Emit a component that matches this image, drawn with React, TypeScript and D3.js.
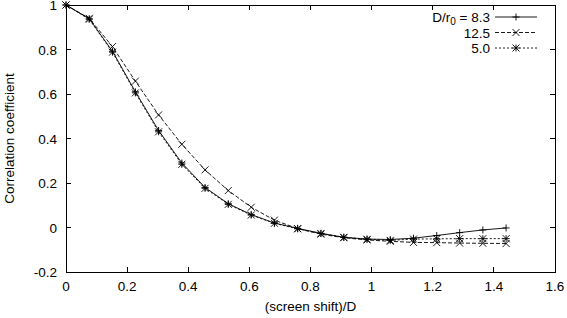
import React from "react";
import * as d3 from "d3";

const xs = [0, 0.076, 0.152, 0.227, 0.303, 0.379, 0.455, 0.531, 0.606, 0.682, 0.758, 0.834, 0.909, 0.985, 1.061, 1.137, 1.213, 1.288, 1.364, 1.44];
const s83 = [1.0, 0.938, 0.792, 0.61, 0.436, 0.29, 0.18, 0.107, 0.058, 0.02, -0.004, -0.026, -0.044, -0.052, -0.054, -0.048, -0.036, -0.023, -0.011, -0.002];
const s125 = [1.0, 0.94, 0.813, 0.658, 0.506, 0.374, 0.259, 0.166, 0.091, 0.033, -0.005, -0.03, -0.046, -0.056, -0.062, -0.067, -0.068, -0.07, -0.071, -0.072];
const s50 = [1.0, 0.936, 0.788, 0.605, 0.43, 0.284, 0.176, 0.104, 0.056, 0.019, -0.006, -0.027, -0.044, -0.053, -0.058, -0.052, -0.051, -0.05, -0.05, -0.05];
const seriesLabels = ["D/r\u2080 = 8.3", "12.5", "5.0"];
const xTicks = [0, 0.2, 0.4, 0.6, 0.8, 1, 1.2, 1.4, 1.6];
const yTicks = [-0.2, 0, 0.2, 0.4, 0.6, 0.8, 1];

const W = 567, H = 318;
const L = 66, R = 555, T = 5, B = 272;
const FONT = "'Liberation Sans', Arial, Helvetica, sans-serif";
const FS = 13.5;

function Marker({ type, x, y }: { type: string; x: number; y: number }) {
  const s = 3.5;
  const plus = <path d={`M${x - s},${y}H${x + s}M${x},${y - s}V${y + s}`} />;
  const cross = <path d={`M${x - s},${y - s}L${x + s},${y + s}M${x - s},${y + s}L${x + s},${y - s}`} />;
  if (type === "plus") return plus;
  if (type === "cross") return cross;
  return <g>{plus}{cross}</g>;
}

export default function App() {
  const x = d3.scaleLinear().domain([0, 1.6]).range([L, R]);
  const y = d3.scaleLinear().domain([-0.2, 1]).range([B, T]);
  const series = [
    { vals: s83, dash: "none", marker: "plus" },
    { vals: s125, dash: "4,2", marker: "cross" },
    { vals: s50, dash: "2,2", marker: "star" },
  ];
  const line = d3.line<number>().x((_, i) => x(xs[i])).y((v) => y(v));
  const fmt = (v: number) => (Math.abs(v) < 1e-9 ? "0" : String(+v.toFixed(1)));
  return (
    <svg width={W} height={H} style={{ position: "absolute", left: 0, top: 0, background: "#fff" }} fontFamily={FONT}>
      <rect x={0} y={0} width={W} height={H} fill="#fff" />
      <g stroke="#000" strokeWidth={1} fill="none" shapeRendering="crispEdges">
        <rect x={L} y={T} width={R - L} height={B - T} />
        {xTicks.map((t) => (
          <g key={"x" + t}>
            <line x1={x(t)} x2={x(t)} y1={B} y2={B - 5} />
            <line x1={x(t)} x2={x(t)} y1={T} y2={T + 5} />
          </g>
        ))}
        {yTicks.map((t) => (
          <g key={"y" + t}>
            <line x1={L} x2={L + 5} y1={y(t)} y2={y(t)} />
            <line x1={R} x2={R - 5} y1={y(t)} y2={y(t)} />
          </g>
        ))}
      </g>
      <g fontSize={FS} fill="#000">
        {xTicks.map((t) => (
          <text key={"xl" + t} x={x(t)} y={B + 19} textAnchor="middle">{fmt(t)}</text>
        ))}
        {yTicks.map((t) => (
          <text key={"yl" + t} x={L - 9} y={y(t) + 5} textAnchor="end">{fmt(t)}</text>
        ))}
        <text x={(L + R) / 2} y={311} textAnchor="middle">(screen shift)/D</text>
        <text transform={`translate(14,${(T + B) / 2}) rotate(-90)`} textAnchor="middle">Correlation coefficient</text>
      </g>
      {series.map((s, k) => (
        <g key={k} stroke="#000" strokeWidth={0.9} fill="none">
          <path d={line(s.vals) || ""} strokeDasharray={s.dash} />
          {s.vals.map((v, i) => (
            <Marker key={i} type={s.marker} x={x(xs[i])} y={y(v)} />
          ))}
        </g>
      ))}
      {series.map((s, k) => {
        const ly = 17 + k * 15.5;
        return (
          <g key={"lg" + k}>
            <text x={490} y={ly + 5} fontSize={FS} textAnchor="end">
              {k === 0 ? (
                <>
                  D/r<tspan fontSize={10} dy={3}>0</tspan>
                  <tspan dy={-3}> = 8.3</tspan>
                </>
              ) : (
                seriesLabels[k]
              )}
            </text>
            <g stroke="#000" strokeWidth={0.9} fill="none">
              <line x1={495} x2={537} y1={ly} y2={ly} strokeDasharray={s.dash} />
              <Marker type={s.marker} x={516} y={ly} />
            </g>
          </g>
        );
      })}
    </svg>
  );
}
